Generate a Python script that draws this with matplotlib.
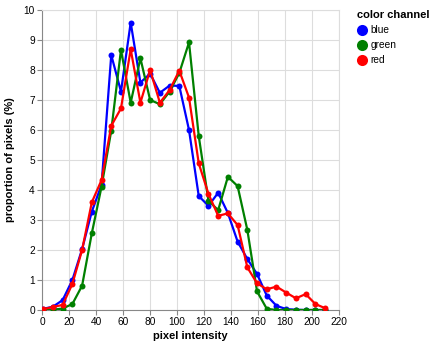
import matplotlib
matplotlib.use("Agg")
import matplotlib.pyplot as plt
from matplotlib.lines import Line2D

plt.rcParams["font.family"] = ["Liberation Sans", "DejaVu Sans"]

# ==========================
# Data (histogram of pixel intensities, % of pixels per bin)
# ==========================
intensity = [0.9, 8.1, 15.3, 22.5, 29.7, 36.9, 44.1, 51.3, 58.5, 65.7,
             72.9, 80.1, 87.3, 94.5, 101.7, 108.9, 116.1, 123.3, 130.5, 137.7,
             144.9, 152.1, 159.3, 166.5, 173.7, 180.9, 188.1, 195.3, 202.5, 209.7]

blue = [0.04, 0.11, 0.33, 1.0, 2.03, 3.28, 4.17, 8.5, 7.28, 9.58,
        7.58, 7.88, 7.24, 7.48, 7.47, 6.0, 3.8, 3.47, 3.91, 3.23,
        2.28, 1.7, 1.2, 0.48, 0.14, 0.03, 0.01, 0.0, 0.0, 0.0]

green = [0.0, 0.01, 0.05, 0.2, 0.81, 2.56, 4.11, 5.98, 8.67, 6.91,
         8.39, 7.0, 6.86, 7.28, 7.9, 8.92, 5.8, 3.64, 3.33, 4.44,
         4.13, 2.67, 0.62, 0.04, 0.0, 0.0, 0.0, 0.0, 0.0, 0.0]

red = [0.03, 0.1, 0.17, 0.87, 2.0, 3.59, 4.33, 6.14, 6.72, 8.69,
       6.91, 8.0, 6.91, 7.33, 7.98, 7.08, 4.89, 3.87, 3.14, 3.22,
       2.83, 1.42, 0.89, 0.69, 0.78, 0.58, 0.39, 0.53, 0.2, 0.06]

channels = ["blue", "green", "red"]
values = {"blue": blue, "green": green, "red": red}
colors = {"blue": "#0000ff", "green": "#008000", "red": "#ff0000"}

x_ticks = [0, 20, 40, 60, 80, 100, 120, 140, 160, 180, 200, 220]
y_ticks = [0, 1, 2, 3, 4, 5, 6, 7, 8, 9, 10]

# ==========================
# Chart
# ==========================
fig = plt.figure(figsize=(4.34, 3.47), dpi=100)
ax = fig.add_axes([42 / 434, 37 / 347, 297 / 434, 300 / 347])

for ch in channels:
    ax.plot(intensity, values[ch], color=colors[ch], lw=1.6,
            marker="o", ms=4.3, mew=0, zorder=3)

ax.set_xlim(0, 220)
ax.set_ylim(0, 10)
ax.set_xticks(x_ticks)
ax.set_yticks(y_ticks)
ax.grid(True, color="#dddddd", lw=0.8, zorder=0)
ax.set_axisbelow(True)

for side in ["top", "right"]:
    ax.spines[side].set_color("#dddddd")
    ax.spines[side].set_linewidth(0.8)
for side in ["bottom", "left"]:
    ax.spines[side].set_color("#888888")
    ax.spines[side].set_linewidth(0.8)

ax.tick_params(axis="both", length=3.6, width=0.8, color="#888888",
               labelsize=7.3, pad=1.5, labelcolor="black")

ax.set_xlabel("pixel intensity", fontsize=8, fontweight="bold", labelpad=3)
ax.set_ylabel("proportion of pixels (%)", fontsize=8, fontweight="bold", labelpad=6)

handles = [Line2D([], [], ls="none", marker="o", ms=8.0, mew=0,
                  color=colors[ch]) for ch in channels]
leg = ax.legend(handles, channels, title="color channel",
                loc="upper left", bbox_to_anchor=(357 / 434, 1 - 10 / 347),
                bbox_transform=fig.transFigure, frameon=False,
                fontsize=7.3, handlelength=0.9, handletextpad=0.4,
                labelspacing=0.5, borderpad=0, borderaxespad=0,
                alignment="left")
leg.get_title().set_fontsize(8)
leg.get_title().set_fontweight("bold")

plt.savefig("out.png", dpi=100)
